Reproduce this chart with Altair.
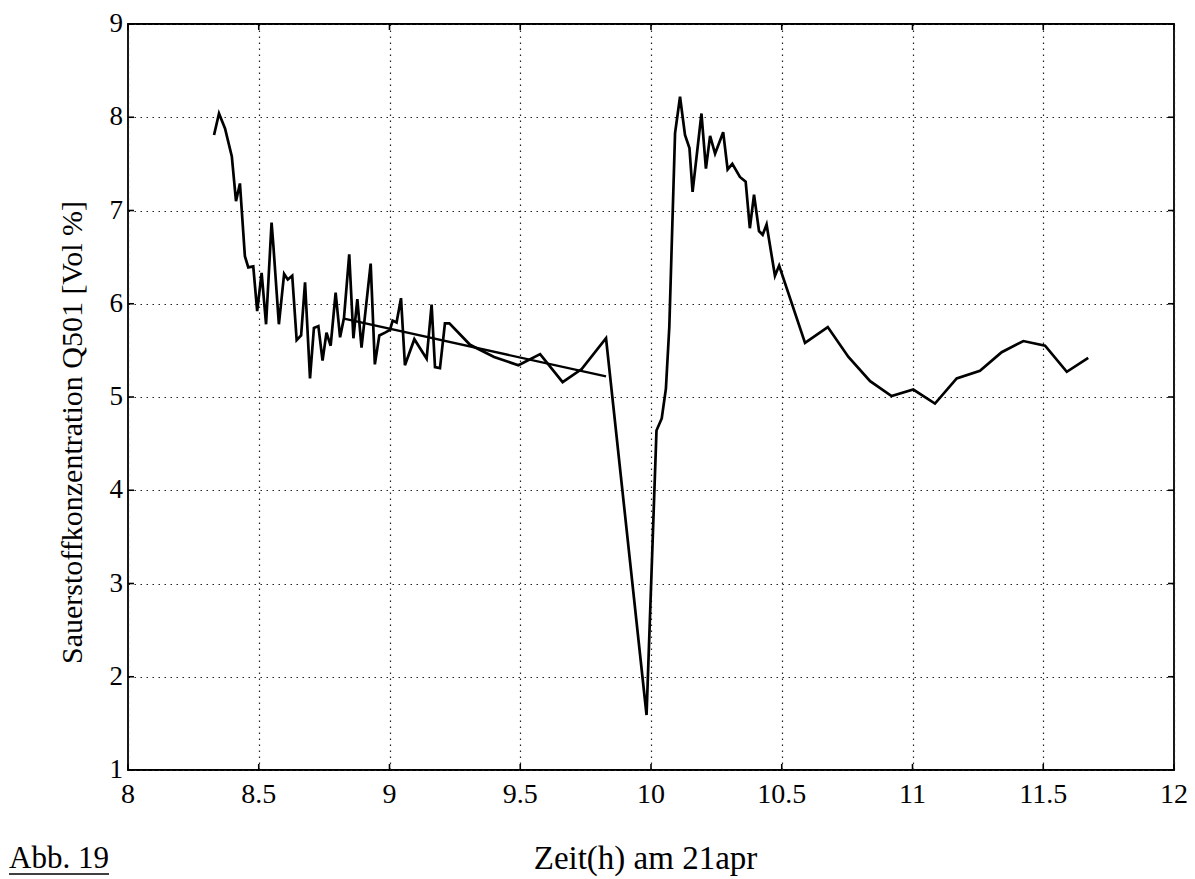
import altair as alt
import pandas as pd

# Main oxygen concentration series (time in h, value in Vol %)
time_h = [8.329, 8.348, 8.371, 8.397, 8.413, 8.428, 8.447, 8.460, 8.479, 8.494,
          8.511, 8.528, 8.549, 8.556, 8.577, 8.597, 8.611, 8.628, 8.645, 8.662,
          8.677, 8.696, 8.711, 8.728, 8.744, 8.759, 8.775, 8.794, 8.811, 8.826,
          8.846, 8.862, 8.877, 8.893, 8.928, 8.944, 8.961, 8.983, 9.002, 9.012,
          9.027, 9.044, 9.059, 9.095, 9.142, 9.161, 9.174, 9.193, 9.212, 9.229,
          9.308, 9.400, 9.493, 9.576, 9.662, 9.735, 9.828, 9.983, 10.021, 10.041,
          10.057, 10.070, 10.092, 10.111, 10.130, 10.147, 10.159, 10.193, 10.210, 10.226,
          10.245, 10.276, 10.293, 10.311, 10.340, 10.362, 10.378, 10.394, 10.413, 10.427,
          10.442, 10.474, 10.490, 10.589, 10.676, 10.755, 10.838, 10.920, 11.003, 11.086,
          11.169, 11.258, 11.341, 11.424, 11.507, 11.590, 11.672]
oxygen = [7.81, 8.04, 7.88, 7.58, 7.10, 7.29, 6.51, 6.39, 6.40, 5.92,
          6.33, 5.78, 6.87, 6.62, 5.78, 6.32, 6.26, 6.30, 5.61, 5.66,
          6.23, 5.20, 5.74, 5.76, 5.39, 5.69, 5.55, 6.12, 5.64, 5.85,
          6.53, 5.63, 6.05, 5.53, 6.43, 5.35, 5.66, 5.69, 5.72, 5.82,
          5.80, 6.06, 5.34, 5.62, 5.41, 5.99, 5.32, 5.31, 5.79, 5.79,
          5.56, 5.43, 5.34, 5.46, 5.16, 5.30, 5.63, 1.59, 4.64, 4.77,
          5.09, 5.75, 7.83, 8.22, 7.81, 7.67, 7.20, 8.04, 7.45, 7.80,
          7.61, 7.84, 7.44, 7.50, 7.36, 7.31, 6.81, 7.17, 6.78, 6.74,
          6.85, 6.30, 6.41, 5.58, 5.75, 5.43, 5.17, 5.01, 5.08, 4.93,
          5.20, 5.28, 5.48, 5.60, 5.55, 5.27, 5.42]

# Straight trend line
fit_time = [8.826, 9.828]
fit_value = [5.84, 5.22]

x_ticks = [8, 8.5, 9, 9.5, 10, 10.5, 11, 11.5, 12]
x_labels = ["8", "8.5", "9", "9.5", "10", "10.5", "11", "11.5", "12"]
y_ticks = [1, 2, 3, 4, 5, 6, 7, 8, 9]
y_labels = ["1", "2", "3", "4", "5", "6", "7", "8", "9"]

W, H = 1046, 746
FONT = "Liberation Serif"

main_df = pd.DataFrame({"t": time_h, "v": oxygen})
fit_df = pd.DataFrame({"t": fit_time, "v": fit_value})
xt_df = pd.DataFrame({"t": x_ticks, "lab": x_labels})
yt_df = pd.DataFrame({"v": y_ticks, "lab": y_labels})

xscale = alt.Scale(domain=[8, 12], nice=False, zero=False)
yscale = alt.Scale(domain=[1, 9], nice=False, zero=False)

xaxis = alt.Axis(values=x_ticks, title="Zeit(h) am 21apr", grid=True,
                 gridDash=[1.5, 4.5], gridColor="#222", gridWidth=1.2,
                 domain=False, ticks=False, tickSize=0, labels=False,
                 titleFont=FONT, titleFontSize=33, titleFontWeight="normal",
                 titleColor="black", titleX=517, titleY=88,
                 titleBaseline="middle", titleAlign="center")
yaxis = alt.Axis(values=y_ticks, title="Sauerstoffkonzentration Q501 [Vol %]",
                 grid=True, gridDash=[1.5, 4.5], gridColor="#222", gridWidth=1.2,
                 domain=False, ticks=False, tickSize=0, labels=False,
                 titleFont=FONT, titleFontSize=30, titleFontWeight="normal",
                 titleColor="black", titleX=-56, titleY=408, titleAngle=270,
                 titleBaseline="middle", titleAlign="center")

main_line = alt.Chart(main_df).mark_line(color="black", strokeWidth=2.7).encode(
    x=alt.X("t:Q", scale=xscale, axis=xaxis),
    y=alt.Y("v:Q", scale=yscale, axis=yaxis),
    order="t:Q",
)
fit_line = alt.Chart(fit_df).mark_line(color="black", strokeWidth=2.3).encode(
    x=alt.X("t:Q", scale=xscale),
    y=alt.Y("v:Q", scale=yscale),
)

tick_len = 6
bottom_ticks = alt.Chart(xt_df).mark_rule(color="black", strokeWidth=1.6).encode(
    x=alt.X("t:Q", scale=xscale), y=alt.value(H), y2=alt.value(H - tick_len))
top_ticks = alt.Chart(xt_df).mark_rule(color="black", strokeWidth=1.6).encode(
    x=alt.X("t:Q", scale=xscale), y=alt.value(0), y2=alt.value(tick_len))
left_ticks = alt.Chart(yt_df).mark_rule(color="black", strokeWidth=1.6).encode(
    y=alt.Y("v:Q", scale=yscale), x=alt.value(0), x2=alt.value(tick_len))
right_ticks = alt.Chart(yt_df).mark_rule(color="black", strokeWidth=1.6).encode(
    y=alt.Y("v:Q", scale=yscale), x=alt.value(W), x2=alt.value(W - tick_len))

x_tick_labels = alt.Chart(xt_df).mark_text(
    font=FONT, fontSize=28, color="black", align="center", baseline="top"
).encode(x=alt.X("t:Q", scale=xscale), y=alt.value(H + 11), text="lab:N")
y_tick_labels = alt.Chart(yt_df).mark_text(
    font=FONT, fontSize=27, color="black", align="right", baseline="middle"
).encode(y=alt.Y("v:Q", scale=yscale), x=alt.value(-5), text="lab:N")

abb_df = pd.DataFrame({"label": ["Abb. 19"]})
abb_text = alt.Chart(abb_df).mark_text(
    font=FONT, fontSize=31, color="black", align="left", baseline="middle"
).encode(text="label:N", x=alt.value(-119), y=alt.value(835))
abb_line = alt.Chart(abb_df).mark_rule(color="black", strokeWidth=1.3).encode(
    x=alt.value(-119), x2=alt.value(-19), y=alt.value(850))

chart = alt.layer(
    main_line, fit_line, bottom_ticks, top_ticks, left_ticks, right_ticks,
    x_tick_labels, y_tick_labels, abb_text, abb_line
).properties(
    width=W, height=H,
    autosize=alt.AutoSizeParams(type="none"),
    padding={"left": 120, "top": 16, "right": 13, "bottom": 108},
    background="white",
).configure(font=FONT).configure_view(stroke="black", strokeWidth=1.8)

chart.save("out.html", embed_options={"renderer": "svg", "actions": False})
